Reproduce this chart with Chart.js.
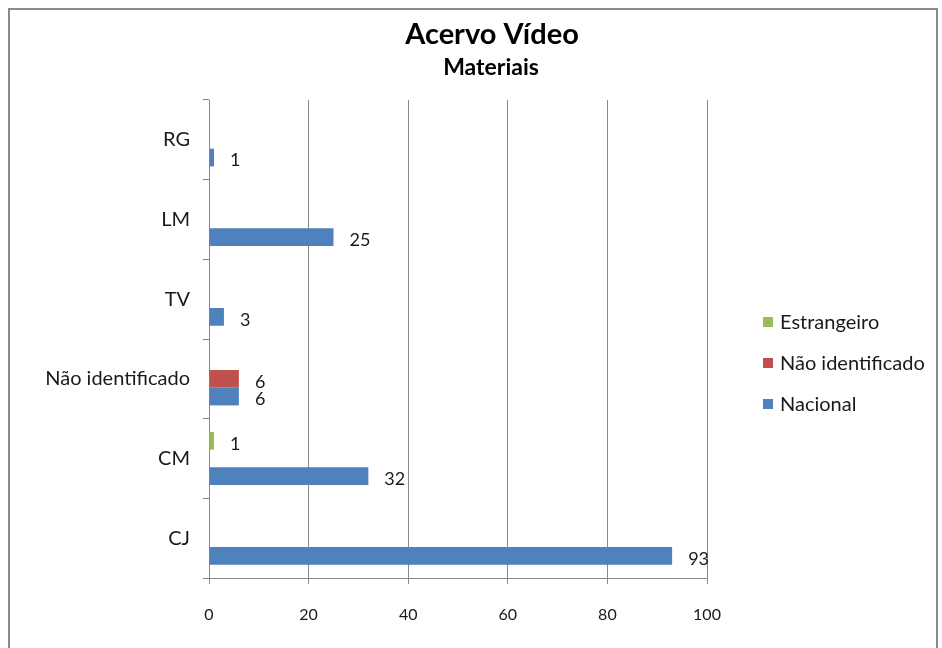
<!DOCTYPE html>
<html>
<head>
<meta charset="utf-8">
<script src="https://cdn.jsdelivr.net/npm/chart.js@4/dist/chart.umd.min.js"></script>
<style>
  html, body { margin: 0; padding: 0; background: #ffffff; }
  #wrap { position: relative; width: 942px; height: 648px; }
</style>
</head>
<body>
<div id="wrap"><canvas id="chart" width="942" height="648"></canvas></div>
<script>
// Categories, top to bottom
const categories = ['RG', 'LM', 'TV', 'Não identificado', 'CM', 'CJ'];

// Series values per category (null = no bar)
const estrangeiro     = [null, null, null, null, 1, null];
const naoIdentificado = [null, null, null, 6, null, null];
const nacional        = [1, 25, 3, 6, 32, 93];

// Axis ticks
const xTicks = [0, 20, 40, 60, 80, 100];

const titleText = 'Acervo Vídeo';
const subtitleText = 'Materiais';

const FONT = 'Lato, "Open Sans", "DejaVu Sans", sans-serif';
const GRID = '#878787';

// White background with the grey frame around the whole chart
const framePlugin = {
  id: 'frame',
  beforeDraw(chart) {
    const ctx = chart.ctx;
    ctx.save();
    ctx.fillStyle = '#ffffff';
    ctx.fillRect(0, 0, chart.width, chart.height);
    ctx.strokeStyle = '#8a8a8a';
    ctx.lineWidth = 2;
    ctx.strokeRect(9, 9, 928, 660);
    ctx.restore();
  }
};

// Titles, value labels and legend
const annotatePlugin = {
  id: 'annotate',
  afterDatasetsDraw(chart) {
    const ctx = chart.ctx;
    ctx.save();
    ctx.fillStyle = '#1a1a1a';
    ctx.font = '18px ' + FONT;
    ctx.textAlign = 'left';
    ctx.textBaseline = 'middle';
    chart.data.datasets.forEach((ds, di) => {
      const meta = chart.getDatasetMeta(di);
      meta.data.forEach((el, i) => {
        const v = ds.data[i];
        if (v === null || v === undefined) return;
        ctx.fillText(String(v), el.x + 16, el.y + 3);
      });
    });
    ctx.restore();
  },
  afterDraw(chart) {
    const ctx = chart.ctx;
    ctx.save();
    ctx.fillStyle = '#000000';
    ctx.textAlign = 'center';
    ctx.textBaseline = 'middle';
    ctx.font = 'bold 29px ' + FONT;
    ctx.fillText(titleText, 492, 35);
    ctx.font = 'bold 23px ' + FONT;
    ctx.fillText(subtitleText, 491, 68);

    // Legend on the right
    ctx.textAlign = 'left';
    ctx.font = '20px ' + FONT;
    chart.data.datasets.forEach((ds, di) => {
      const y = 322 + di * 41;
      ctx.fillStyle = ds.backgroundColor;
      ctx.fillRect(763, y - 5, 10, 10);
      ctx.fillStyle = '#1a1a1a';
      ctx.fillText(ds.label, 780, y + 1);
    });
    ctx.restore();
  }
};

new Chart(document.getElementById('chart'), {
  type: 'bar',
  data: {
    labels: categories,
    datasets: [
      { label: 'Estrangeiro', data: estrangeiro, backgroundColor: '#9BBB59' },
      { label: 'Não identificado', data: naoIdentificado, backgroundColor: '#C0504D' },
      { label: 'Nacional', data: nacional, backgroundColor: '#4F81BD' }
    ]
  },
  options: {
    indexAxis: 'y',
    responsive: false,
    animation: false,
    events: [],
    datasets: {
      bar: { categoryPercentage: 0.667, barPercentage: 1.0, skipNull: false }
    },
    layout: { padding: { left: 9, top: 100, right: 235, bottom: 0 } },
    plugins: {
      legend: { display: false },
      title: { display: false },
      tooltip: { enabled: false }
    },
    scales: {
      x: {
        type: 'linear',
        min: 0,
        max: 100,
        afterFit(scale) { scale.height = 70; },
        afterBuildTicks(scale) { scale.ticks = xTicks.map(v => ({ value: v })); },
        grid: { color: GRID, lineWidth: 1, tickLength: 6, drawOnChartArea: true },
        border: { display: true, color: GRID, width: 1 },
        ticks: {
          color: '#1a1a1a',
          font: { family: FONT, size: 16 },
          padding: 21
        }
      },
      y: {
        type: 'category',
        offset: true,
        afterFit(scale) { scale.width = 200; },
        grid: { offset: true, drawOnChartArea: false, color: GRID, tickLength: 6 },
        border: { display: true, color: GRID, width: 1 },
        ticks: {
          color: '#1a1a1a',
          font: { family: FONT, size: 20 },
          padding: 13
        }
      }
    }
  },
  plugins: [framePlugin, annotatePlugin]
});
</script>
</body>
</html>
